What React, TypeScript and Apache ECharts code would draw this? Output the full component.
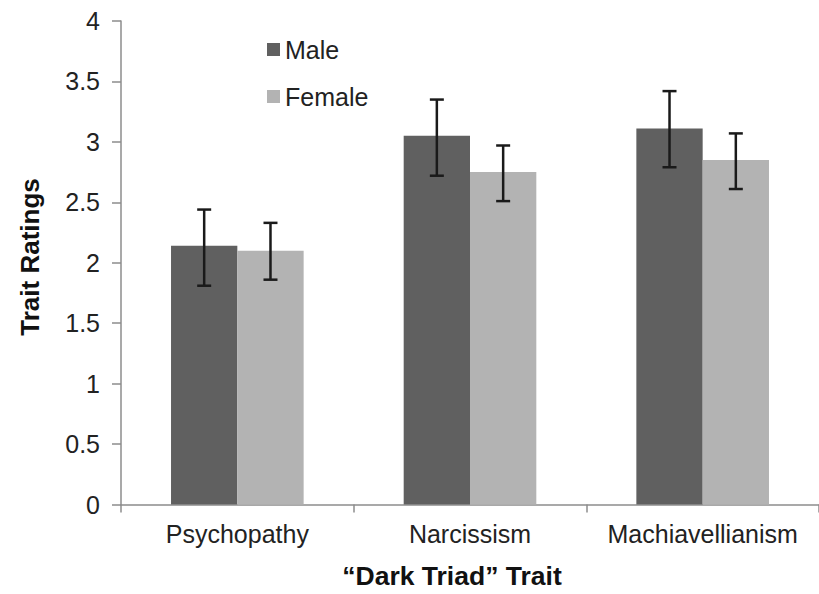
import React, { useEffect, useRef } from "react";
import * as echarts from "echarts";

const categories = ["Psychopathy", "Narcissism", "Machiavellianism"];
const maleValues = [2.14, 3.05, 3.11];
const femaleValues = [2.1, 2.75, 2.85];
const maleLow = [1.81, 2.72, 2.79];
const maleHigh = [2.44, 3.35, 3.42];
const femaleLow = [1.86, 2.51, 2.61];
const femaleHigh = [2.33, 2.97, 3.07];

const FONT = "'Liberation Sans', Arial, sans-serif";
const BAR_FRAC = 0.285;

function errorSeries(name: string, low: number[], high: number[], offset: number) {
  return {
    type: "custom",
    name,
    z: 10,
    silent: true,
    encode: { x: 0, y: [1, 2] },
    data: low.map((lo, i) => [i, lo, high[i]]),
    renderItem: (params: any, api: any) => {
      const ci = api.value(0);
      const lo = api.value(1);
      const hi = api.value(2);
      const pHi = api.coord([ci, hi]);
      const pLo = api.coord([ci, lo]);
      const band = api.size([1, 0])[0];
      const x = pHi[0] + offset * band;
      const cap = 7;
      const style = { stroke: "#1a1a1a", lineWidth: 2.5 };
      return {
        type: "group",
        children: [
          { type: "line", shape: { x1: x, y1: pHi[1], x2: x, y2: pLo[1] }, style },
          { type: "line", shape: { x1: x - cap, y1: pHi[1], x2: x + cap, y2: pHi[1] }, style },
          { type: "line", shape: { x1: x - cap, y1: pLo[1], x2: x + cap, y2: pLo[1] }, style },
        ],
      };
    },
  };
}

export default function App() {
  const ref = useRef<HTMLDivElement>(null);
  useEffect(() => {
    document.body.style.margin = "0";
    const chart = echarts.init(ref.current!, undefined, { renderer: "svg" });
    chart.setOption({
      animation: false,
      backgroundColor: "#ffffff",
      textStyle: { fontFamily: FONT },
      grid: { left: 121, right: -7.5, top: 21, bottom: 89.5 },
      legend: {
        orient: "vertical",
        left: 262,
        top: 32,
        itemWidth: 13,
        itemHeight: 13,
        itemGap: 22,
        icon: "rect",
        data: ["Male", "Female"],
        textStyle: { fontFamily: FONT, fontSize: 25, color: "#222" },
      },
      xAxis: {
        type: "category",
        data: categories,
        axisLine: { lineStyle: { color: "#8c8c8c", width: 1.5 } },
        axisTick: { show: true, length: 8, lineStyle: { color: "#8c8c8c", width: 1.5 } },
        axisLabel: { fontSize: 25, color: "#222", margin: 17, interval: 0, fontFamily: FONT },
      },
      yAxis: {
        type: "value",
        min: 0,
        max: 4,
        interval: 0.5,
        splitLine: { show: false },
        axisLine: { show: true, lineStyle: { color: "#8c8c8c", width: 1.5 } },
        axisTick: { show: true, length: 9, lineStyle: { color: "#8c8c8c", width: 1.5 } },
        axisLabel: { fontSize: 25, color: "#222", margin: 21, fontFamily: FONT },
      },
      graphic: [
        {
          type: "text",
          x: 30,
          y: 257,
          rotation: Math.PI / 2,
          style: {
            text: "Trait Ratings",
            font: `bold 26px ${FONT}`,
            fill: "#111",
            textAlign: "center",
            textVerticalAlign: "middle",
          },
        },
        {
          type: "text",
          x: 452,
          y: 576,
          style: {
            text: "\u201cDark Triad\u201d Trait",
            font: `bold 26.5px ${FONT}`,
            fill: "#111",
            textAlign: "center",
            textVerticalAlign: "middle",
          },
        },
      ],
      series: [
        {
          type: "bar",
          name: "Male",
          data: maleValues,
          barWidth: `${BAR_FRAC * 100}%`,
          barGap: "0%",
          itemStyle: { color: "#606060" },
        },
        {
          type: "bar",
          name: "Female",
          data: femaleValues,
          barWidth: `${BAR_FRAC * 100}%`,
          barGap: "0%",
          itemStyle: { color: "#b3b3b3" },
        },
        errorSeries("MaleErr", maleLow, maleHigh, -BAR_FRAC / 2),
        errorSeries("FemaleErr", femaleLow, femaleHigh, BAR_FRAC / 2),
      ],
    });
    return () => chart.dispose();
  }, []);
  return <div ref={ref} style={{ width: 819, height: 594 }} />;
}
